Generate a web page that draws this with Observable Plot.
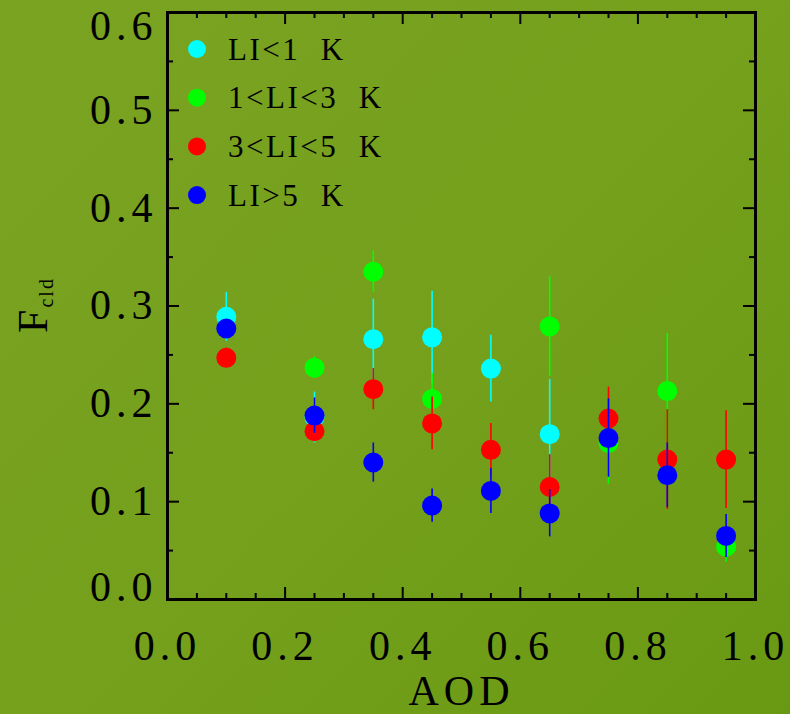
<!DOCTYPE html>
<html>
<head>
<meta charset="utf-8">
<script src="https://cdn.jsdelivr.net/npm/d3@7"></script>
<script src="https://cdn.jsdelivr.net/npm/@observablehq/plot@0.6"></script>
<style>
  html, body { margin: 0; padding: 0; }
  body {
    width: 790px; height: 714px; overflow: hidden;
    background: linear-gradient(135deg, #7aa322 0%, #74a01c 55%, #699913 100%);
  }
  #chart svg { display: block; }
  #chart svg text { letter-spacing: 5px; }
</style>
</head>
<body>
<div id="chart"></div>
<script>
// ---- data ----
const aod = [0.1, 0.25, 0.35, 0.45, 0.55, 0.65, 0.75, 0.85, 0.95];
const seriesNames = ["LI<1  K", "1<LI<3  K", "3<LI<5  K", "LI>5  K"];
const seriesColors = ["#00ffff", "#00ff00", "#ff0000", "#0000ff"];
const fLow    = [0.289, 0.186, 0.266, 0.268, 0.236, 0.169, null, null, null];
const fLowErr = [0.025, 0.026, 0.041, 0.047, 0.034, 0.056, null, null, null];
const fMid1    = [null, 0.237, 0.335, 0.205, null, 0.279, 0.160, 0.213, 0.054];
const fMid1Err = [null, 0.011, 0.021, 0.026, null, 0.051, 0.042, 0.059, 0.016];
const fMid2    = [0.247, 0.172, 0.215, 0.180, 0.153, 0.115, 0.185, 0.143, 0.143];
const fMid2Err = [0.010, 0.010, 0.021, 0.027, 0.027, 0.033, 0.032, 0.051, 0.050];
const fHigh    = [0.277, 0.188, 0.140, 0.096, 0.111, 0.088, 0.165, 0.127, 0.065];
const fHighErr = [0.008, 0.018, 0.020, 0.017, 0.023, 0.024, 0.040, 0.033, 0.022];
const xMajor = [0, 0.2, 0.4, 0.6, 0.8, 1.0];
const xMinor = d3.range(0, 21).map(i => i * 0.05);
const yMajor = [0, 0.1, 0.2, 0.3, 0.4, 0.5, 0.6];
const yMinor = d3.range(0, 13).map(i => i * 0.05);

const seriesValues = [[fLow, fLowErr], [fMid1, fMid1Err], [fMid2, fMid2Err], [fHigh, fHighErr]];
const tables = seriesValues.map(([vals, errs], s) =>
  aod.map((a, i) => ({aod: a, f: vals[i], err: errs[i], series: seriesNames[s]}))
     .filter(d => d.f != null));

const W = 790, H = 714;
const mL = 167, mR = 35, mT = 12, mB = 115;
const innerW = W - mL - mR, innerH = H - mT - mB;
const fmt = d3.format(".1f");
const FONT = "Liberation Serif";

const dataMarks = [];
tables.forEach((rows, s) => {
  dataMarks.push(Plot.ruleX(rows, {x: "aod", y1: d => d.f - d.err, y2: d => d.f + d.err,
    stroke: seriesColors[s], strokeWidth: 1.6}));
  dataMarks.push(Plot.dot(rows, {x: "aod", y: "f", r: 10, fill: seriesColors[s], stroke: "none"}));
});

const isMajorX = v => xMajor.some(m => Math.abs(m - v) < 1e-9);
const isMajorY = v => yMajor.some(m => Math.abs(m - v) < 1e-9);

const chart = Plot.plot({
  width: W, height: H,
  marginLeft: mL, marginRight: mR, marginTop: mT, marginBottom: mB,
  x: {domain: [0, 1], axis: null},
  y: {domain: [0, 0.6], axis: null},
  style: {background: "transparent", fontFamily: FONT, color: "black", overflow: "visible"},
  marks: [
    ...dataMarks,
    // bottom/top ticks (inward)
    Plot.tickX(xMinor.filter(v => !isMajorX(v)), {x: d => d, stroke: "black", strokeWidth: 2, insetTop: innerH - 6}),
    Plot.tickX(xMajor, {x: d => d, stroke: "black", strokeWidth: 2, insetTop: innerH - 12}),
    Plot.tickX(xMinor.filter(v => !isMajorX(v)), {x: d => d, stroke: "black", strokeWidth: 2, insetBottom: innerH - 6}),
    Plot.tickX(xMajor, {x: d => d, stroke: "black", strokeWidth: 2, insetBottom: innerH - 12}),
    // left/right ticks (inward)
    Plot.tickY(yMinor.filter(v => !isMajorY(v)), {y: d => d, stroke: "black", strokeWidth: 2, insetRight: innerW - 6}),
    Plot.tickY(yMajor, {y: d => d, stroke: "black", strokeWidth: 2, insetRight: innerW - 12}),
    Plot.tickY(yMinor.filter(v => !isMajorY(v)), {y: d => d, stroke: "black", strokeWidth: 2, insetLeft: innerW - 6}),
    Plot.tickY(yMajor, {y: d => d, stroke: "black", strokeWidth: 2, insetLeft: innerW - 12}),
    Plot.frame({stroke: "black", strokeWidth: 3}),
    // x tick labels
    Plot.text(xMajor, {x: d => d, frameAnchor: "bottom", lineAnchor: "top", dy: 31,
      text: d => fmt(d), fontSize: 42, fill: "black"}),
    // y tick labels
    Plot.text(yMajor.slice(1, -1), {y: d => d, frameAnchor: "left", textAnchor: "end", dx: -10,
      text: d => fmt(d), fontSize: 42, fill: "black"}),
    Plot.text(yMajor.slice(-1), {y: d => d, frameAnchor: "left", textAnchor: "end", dx: -10, dy: 14,
      text: d => fmt(d), fontSize: 42, fill: "black"}),
    Plot.text(yMajor.slice(0, 1), {y: d => d, frameAnchor: "left", textAnchor: "end", dx: -10, dy: -12,
      text: d => fmt(d), fontSize: 42, fill: "black"}),
    // x axis label
    Plot.text(["AOD"], {frameAnchor: "bottom", lineAnchor: "top", dy: 76, text: d => d, fontSize: 42, fill: "black"})
  ]
});

document.getElementById("chart").appendChild(chart);

const svg = d3.select(chart);
// y axis label F_cld
const ylab = svg.append("text")
  .attr("transform", "translate(47,305) rotate(-90)")
  .attr("text-anchor", "middle")
  .attr("font-family", FONT)
  .attr("fill", "black")
  .style("letter-spacing", "2px");
ylab.append("tspan").attr("font-size", 42).text("F");
ylab.append("tspan").attr("font-size", 20).attr("dy", 6).text("cld");

// legend
const lg = svg.append("g").attr("font-family", FONT).attr("font-size", 31).attr("fill", "black")
  .attr("text-anchor", "start");
seriesNames.forEach((name, i) => {
  const cy = 49 + i * 48.7;
  lg.append("circle").attr("cx", 197).attr("cy", cy).attr("r", 9).attr("fill", seriesColors[i]);
  lg.append("text").attr("x", 228).attr("y", cy).attr("dy", "0.34em").attr("text-anchor", "start")
    .style("white-space", "pre").style("letter-spacing", "2.5px").text(name);
});
</script>
</body>
</html>
